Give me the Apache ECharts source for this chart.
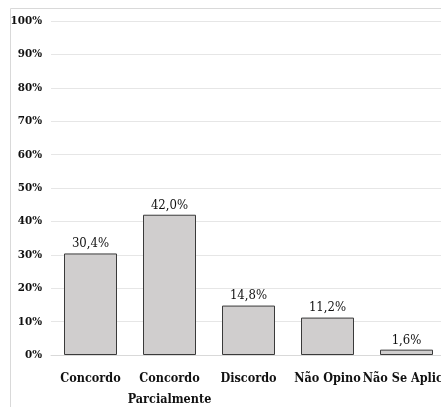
<!DOCTYPE html>
<html><head><meta charset="utf-8">
<script src="https://cdn.jsdelivr.net/npm/echarts@6/dist/echarts.min.js"></script>
<style>html,body{margin:0;padding:0;background:#fff}#c{width:441px;height:407px}</style>
</head><body><div id="c"></div>
<script>
var categories = ['Concordo', 'Concordo\nParcialmente', 'Discordo', 'Não Opino', 'Não Se Aplica'];
var values = [30.4, 42.0, 14.8, 11.2, 1.6];
var yTicks = [0, 10, 20, 30, 40, 50, 60, 70, 80, 90, 100];

var font = '"DejaVu Serif Condensed", "DejaVu Serif", serif';
var chart = echarts.init(document.getElementById('c'));
chart.setOption({
  animation: false,
  graphic: [{type: 'rect', shape: {x: 10.5, y: 8.5, width: 500, height: 500}, style: {fill: 'none', stroke: '#d9d9d9', lineWidth: 1}, z: -1}],
  grid: {left: 51, width: 395, top: 21, height: 334, containLabel: false, outerBoundsMode: 'none'},
  xAxis: {
    type: 'category', data: categories,
    axisLine: {show: true, lineStyle: {color: '#d9d9d9'}},
    axisTick: {show: false},
    axisLabel: {color: '#111', fontFamily: font, fontWeight: 'bold', fontSize: 12.5, margin: 13, lineHeight: 21, interval: 0}
  },
  yAxis: {
    type: 'value', min: yTicks[0], max: yTicks[yTicks.length - 1], interval: 10,
    axisLine: {show: false}, axisTick: {show: false},
    splitLine: {lineStyle: {color: '#e6e6e6'}},
    axisLabel: {color: '#111', fontFamily: font, fontWeight: 'bold', fontSize: 11.5, margin: 9, formatter: '{value}%'}
  },
  series: [{
    type: 'bar', data: values, barWidth: 53,
    itemStyle: {color: '#d0cece', borderColor: '#3a3a3a', borderWidth: 1},
    label: {show: true, position: 'top', distance: 3, color: '#111', fontFamily: font, fontSize: 13,
      formatter: function (p) { return p.value.toFixed(1).replace('.', ',') + '%'; }}
  }]
});
</script></body></html>
